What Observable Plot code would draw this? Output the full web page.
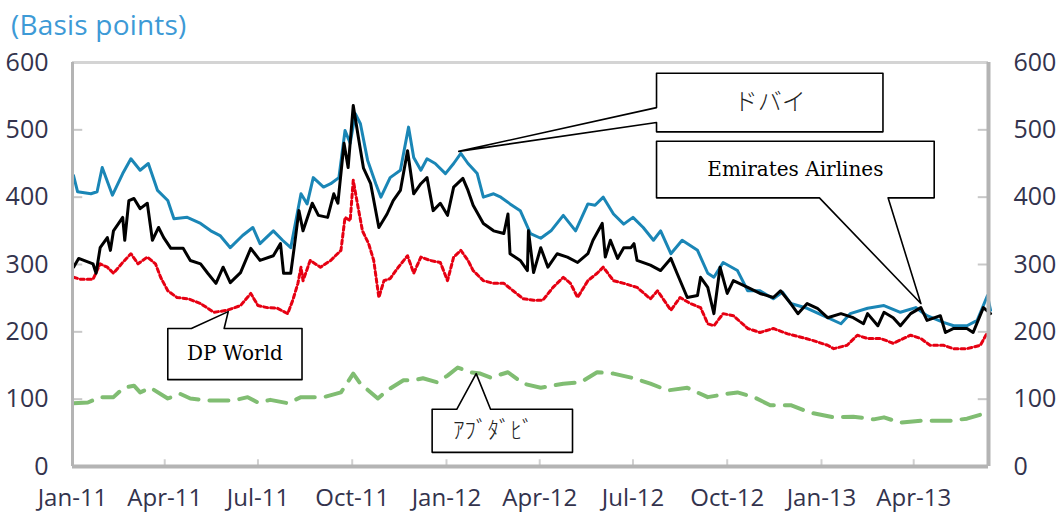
<!DOCTYPE html>
<html><head><meta charset="utf-8">
<script src="https://cdn.jsdelivr.net/npm/d3@7"></script>
<script src="https://cdn.jsdelivr.net/npm/@observablehq/plot@0.6"></script>
<style>
body{margin:0;background:#fff}
#chart{position:relative;width:1059px;height:513px;overflow:hidden}
#title{position:absolute;left:11px;top:5px;font-family:"Open Sans",sans-serif;font-size:28px;color:#3d9ad6;white-space:nowrap;letter-spacing:0.2px}
</style>
</head><body>
<div id="chart"><div id="title">(Basis points)</div></div>
<script>
// ---- data ----
const yTicks = [0, 100, 200, 300, 400, 500, 600];
const quarterTicks = ["2011-01-01","2011-04-01","2011-07-01","2011-10-01","2012-01-01","2012-04-01","2012-07-01","2012-10-01","2013-01-01","2013-04-01"];
const seriesNames = ["ドバイ", "Emirates Airlines", "DP World", "ｱﾌﾞﾀﾞﾋﾞ"];

const dubai = [
["2011-01-02",432],["2011-01-06",408],["2011-01-19",405],["2011-01-25",408],["2011-01-30",444],["2011-02-09",403],
["2011-02-19",435],["2011-02-27",457],["2011-03-08",440],["2011-03-16",450],["2011-03-25",410],["2011-04-04",395],
["2011-04-10",368],["2011-04-23",370],["2011-05-06",361],["2011-05-16",350],["2011-05-25",343],["2011-06-04",325],
["2011-06-16",343],["2011-06-26",355],["2011-07-03",331],["2011-07-16",350],["2011-07-25",336],["2011-08-02",325],
["2011-08-12",405],["2011-08-18",390],["2011-08-24",429],["2011-09-03",415],["2011-09-10",420],["2011-09-18",429],
["2011-09-24",499],["2011-09-29",480],["2011-10-04",524],["2011-10-09",509],["2011-10-16",455],["2011-10-24",420],
["2011-10-29",400],["2011-11-07",429],["2011-11-17",440],["2011-11-25",504],["2011-11-30",459],["2011-12-07",440],
["2011-12-13",457],["2011-12-21",450],["2011-12-31",435],["2012-01-08",450],["2012-01-15",465],["2012-01-22",450],
["2012-01-31",435],["2012-02-06",400],["2012-02-16",405],["2012-02-23",400],["2012-03-03",390],["2012-03-13",380],
["2012-03-23",346],["2012-04-02",339],["2012-04-12",350],["2012-04-24",373],["2012-05-06",350],["2012-05-18",390],
["2012-05-25",388],["2012-06-02",400],["2012-06-12",375],["2012-06-22",360],["2012-07-01",370],["2012-07-11",355],
["2012-07-21",336],["2012-07-28",350],["2012-08-07",316],["2012-08-18",336],["2012-09-02",321],["2012-09-12",287],
["2012-09-18",281],["2012-09-27",303],["2012-10-11",291],["2012-10-21",261],["2012-11-02",261],["2012-11-15",249],
["2012-11-24",259],["2012-12-02",242],["2012-12-18",235],["2013-01-07",221],["2013-01-20",212],["2013-01-29",227],
["2013-02-15",235],["2013-03-03",239],["2013-03-19",229],["2013-04-03",236],["2013-04-14",224],["2013-04-30",214],
["2013-05-10",209],["2013-05-23",209],["2013-06-02",217],["2013-06-12",254],["2013-06-15",232]
];
const emirates = [
["2011-01-02",296],["2011-01-07",309],["2011-01-21",301],["2011-01-24",287],["2011-01-28",325],["2011-02-04",340],
["2011-02-07",321],["2011-02-10",350],["2011-02-19",370],["2011-02-21",336],["2011-02-25",395],["2011-03-02",398],
["2011-03-08",383],["2011-03-15",391],["2011-03-20",336],["2011-03-26",355],["2011-03-31",340],["2011-04-07",324],
["2011-04-19",324],["2011-04-26",306],["2011-05-06",301],["2011-05-13",287],["2011-05-21",272],["2011-05-28",296],
["2011-06-04",273],["2011-06-14",288],["2011-06-24",324],["2011-07-03",306],["2011-07-16",313],["2011-07-23",331],
["2011-07-26",287],["2011-08-02",287],["2011-08-05",321],["2011-08-10",380],["2011-08-14",350],["2011-08-23",391],
["2011-08-29",373],["2011-09-07",370],["2011-09-13",405],["2011-09-17",391],["2011-09-23",480],["2011-09-27",444],
["2011-10-02",536],["2011-10-07",489],["2011-10-12",443],["2011-10-19",420],["2011-10-27",355],["2011-11-04",375],
["2011-11-10",395],["2011-11-17",410],["2011-11-24",469],["2011-11-30",405],["2011-12-07",420],["2011-12-13",429],
["2011-12-19",380],["2011-12-26",391],["2012-01-02",373],["2012-01-08",415],["2012-01-17",428],["2012-01-22",410],
["2012-01-27",388],["2012-02-06",361],["2012-02-16",350],["2012-02-26",346],["2012-03-01",375],["2012-03-03",316],
["2012-03-13",306],["2012-03-20",291],["2012-03-21",350],["2012-03-26",288],["2012-04-02",325],["2012-04-09",296],
["2012-04-18",316],["2012-04-28",311],["2012-05-08",303],["2012-05-18",316],["2012-05-23",336],["2012-06-01",361],
["2012-06-04",311],["2012-06-09",336],["2012-06-16",309],["2012-06-22",325],["2012-06-29",325],["2012-07-02",331],
["2012-07-05",306],["2012-07-18",299],["2012-07-28",291],["2012-08-07",309],["2012-08-13",287],["2012-08-23",251],
["2012-09-02",254],["2012-09-05",281],["2012-09-12",266],["2012-09-18",227],["2012-09-24",296],["2012-10-01",257],
["2012-10-07",276],["2012-10-21",266],["2012-11-02",257],["2012-11-15",251],["2012-11-22",261],["2012-12-02",242],
["2012-12-09",227],["2012-12-18",242],["2012-12-28",235],["2013-01-07",221],["2013-01-20",227],["2013-02-01",221],
["2013-02-11",212],["2013-02-15",227],["2013-02-25",209],["2013-03-03",229],["2013-03-12",221],["2013-03-19",209],
["2013-03-29",227],["2013-04-08",236],["2013-04-14",217],["2013-04-27",224],["2013-05-02",199],["2013-05-10",205],
["2013-05-23",205],["2013-05-29",199],["2013-06-08",236],["2013-06-15",227]
];
const dpWorld = [
["2011-01-02",281],["2011-01-09",278],["2011-01-21",278],["2011-01-28",301],["2011-02-04",296],["2011-02-10",287],
["2011-02-19",303],["2011-02-27",316],["2011-03-06",301],["2011-03-15",311],["2011-03-23",301],["2011-03-28",281],
["2011-04-04",261],["2011-04-13",251],["2011-04-24",249],["2011-05-06",242],["2011-05-19",229],["2011-06-01",232],
["2011-06-14",239],["2011-06-24",257],["2011-07-01",239],["2011-07-10",236],["2011-07-20",235],["2011-07-30",227],
["2011-08-04",247],["2011-08-09",272],["2011-08-12",296],["2011-08-14",276],["2011-08-21",306],["2011-08-31",296],
["2011-09-10",306],["2011-09-20",321],["2011-09-24",370],["2011-09-29",365],["2011-10-02",425],["2011-10-06",391],
["2011-10-11",350],["2011-10-17",331],["2011-10-22",306],["2011-10-27",251],["2011-11-01",276],["2011-11-07",279],
["2011-11-15",296],["2011-11-24",313],["2011-11-30",287],["2011-12-07",311],["2011-12-16",306],["2011-12-26",303],
["2012-01-02",276],["2012-01-08",311],["2012-01-15",321],["2012-01-22",306],["2012-01-27",291],["2012-02-06",276],
["2012-02-16",272],["2012-02-26",272],["2012-03-06",261],["2012-03-16",249],["2012-03-26",247],["2012-04-04",247],
["2012-04-14",266],["2012-04-24",281],["2012-05-01",272],["2012-05-08",251],["2012-05-18",276],["2012-05-27",287],
["2012-06-02",296],["2012-06-12",276],["2012-06-22",272],["2012-07-05",266],["2012-07-18",249],["2012-07-25",261],
["2012-08-07",232],["2012-08-16",251],["2012-08-26",242],["2012-09-05",236],["2012-09-12",212],["2012-09-18",209],
["2012-09-27",227],["2012-10-07",224],["2012-10-21",205],["2012-11-02",199],["2012-11-15",205],["2012-11-29",197],
["2012-12-12",192],["2012-12-24",187],["2013-01-07",180],["2013-01-13",175],["2013-01-26",180],["2013-02-05",195],
["2013-02-15",190],["2013-02-28",190],["2013-03-12",183],["2013-03-29",195],["2013-04-08",190],["2013-04-17",180],
["2013-04-30",180],["2013-05-10",175],["2013-05-23",175],["2013-06-05",180],["2013-06-12",199]
];
const abuDhabi = [
["2011-01-02",94],["2011-01-16",95],["2011-01-28",103],["2011-02-10",103],["2011-02-20",117],["2011-03-02",120],
["2011-03-08",110],["2011-03-18",117],["2011-04-04",101],["2011-04-16",108],["2011-04-26",101],["2011-05-13",98],
["2011-06-07",98],["2011-06-21",103],["2011-07-01",95],["2011-07-13",99],["2011-07-30",94],["2011-08-12",103],
["2011-09-03",103],["2011-09-20",110],["2011-10-02",138],["2011-10-09",123],["2011-10-26",101],["2011-11-04",113],
["2011-11-20",128],["2011-11-30",128],["2011-12-09",131],["2011-12-23",125],["2012-01-02",135],["2012-01-12",147],
["2012-01-24",140],["2012-02-03",138],["2012-02-13",132],["2012-03-01",140],["2012-03-16",123],["2012-04-02",117],
["2012-04-24",123],["2012-05-11",125],["2012-05-27",140],["2012-06-12",138],["2012-07-02",131],["2012-07-18",123],
["2012-08-04",113],["2012-08-23",117],["2012-09-12",103],["2012-10-01",108],["2012-10-11",110],["2012-10-27",103],
["2012-11-12",91],["2012-12-02",91],["2012-12-21",80],["2013-01-13",73],["2013-02-01",74],["2013-02-21",70],
["2013-03-03",73],["2013-03-19",65],["2013-04-08",68],["2013-05-07",68],["2013-05-23",71],["2013-06-12",80]
];

// ---- annotation layout (data coordinates) ----
const callouts = [
  {label: "ドバイ", jp: true, size: 24, dx: 0, x1: "2012-07-24", x2: "2013-03-02", top: 584, bottom: 497,
   side: "left", a: 533, b: 511, tipX: "2012-01-13", tipY: 468},
  {label: "Emirates Airlines", jp: false, size: 20, dx: 0, x1: "2012-07-24", x2: "2013-04-21", top: 483, bottom: 399,
   side: "bottom", a: "2012-12-30", b: "2013-03-07", tipX: "2013-04-08", tipY: 242},
  {label: "DP World", jp: false, size: 20, dx: 0, x1: "2011-04-04", x2: "2011-08-13", top: 205, bottom: 129,
   side: "top", a: "2011-04-27", b: "2011-05-29", tipX: "2011-06-02", tipY: 230},
  {label: "ｱﾌﾞﾀﾞﾋﾞ", jp: true, size: 23, dx: -9, x1: "2011-12-18", x2: "2012-05-03", top: 85, bottom: 21,
   side: "top", a: "2012-01-11", b: "2012-02-13", tipX: "2012-01-30", tipY: 138}
];

const parse = d3.utcParse("%Y-%m-%d");
const toRows = (arr, name) => arr.map(([d, v]) => ({date: parse(d), value: v, series: name}));
const dubaiRows = toRows(dubai, seriesNames[0]);
const emiratesRows = toRows(emirates, seriesNames[1]);
const dpRows = toRows(dpWorld, seriesNames[2]);
const adRows = toRows(abuDhabi, seriesNames[3]);

const xStart = parse("2011-01-01"), xEnd = parse("2013-06-13");
const qDates = quarterTicks.map(parse);

function outline(c) {
  const x1 = parse(c.x1), x2 = parse(c.x2), tx = parse(c.tipX);
  let p;
  if (c.side === "left") {
    p = [[x1, c.top], [x2, c.top], [x2, c.bottom], [x1, c.bottom], [x1, c.b], [tx, c.tipY], [x1, c.a]];
  } else if (c.side === "top") {
    p = [[x1, c.top], [parse(c.a), c.top], [tx, c.tipY], [parse(c.b), c.top], [x2, c.top], [x2, c.bottom], [x1, c.bottom]];
  } else {
    p = [[x1, c.top], [x2, c.top], [x2, c.bottom], [parse(c.b), c.bottom], [tx, c.tipY], [parse(c.a), c.bottom], [x1, c.bottom]];
  }
  return p.map(([x, y]) => ({x, y, id: c.label}));
}
const outlineRows = callouts.flatMap(outline);
const labelRows = callouts.map(c => ({
  x: new Date((parse(c.x1).getTime() + parse(c.x2).getTime()) / 2),
  y: (c.top + c.bottom) / 2, label: c.label, jp: c.jp, size: c.size, dx: c.dx
}));

const tickColor = "#33334d";
const axisFont = "Open Sans";

const jpMarks = labelRows.filter(d => d.jp).map(d =>
  Plot.text([d], {x: "x", y: "y", text: "label", fontSize: d.size, dx: d.dx,
    fontFamily: "Noto Sans CJK JP", fontWeight: 300, fill: "#222"}));
const enMarks = labelRows.filter(d => !d.jp).map(d =>
  Plot.text([d], {x: "x", y: "y", text: "label", fontSize: d.size, dx: d.dx,
    fontFamily: "DejaVu Serif", fill: "black"}));

const chart = Plot.plot({
  width: 1059, height: 513,
  marginLeft: 72, marginRight: 71, marginTop: 62, marginBottom: 47,
  style: {fontFamily: axisFont, background: "white"},
  x: {type: "utc", domain: [xStart, xEnd]},
  y: {domain: [0, 600]},
  marks: [
    // inner tick marks
    Plot.ruleY(yTicks.slice(1, -1), {x1: xStart, x2: d3.utcDay.offset(xStart, 10), stroke: "#c8c8c8", strokeWidth: 2}),
    Plot.ruleY(yTicks.slice(1, -1), {x1: d3.utcDay.offset(xEnd, -10), x2: xEnd, stroke: "#c8c8c8", strokeWidth: 2}),
    Plot.ruleX(qDates.slice(1), {y1: 0, y2: 10, stroke: "#d0d0d0", strokeWidth: 2}),
    // series
    Plot.line(adRows, {x: "date", y: "value", stroke: "#80bd72", strokeWidth: 4, strokeDasharray: "19,11"}),
    Plot.line(dpRows, {x: "date", y: "value", stroke: "#e60012", strokeWidth: 3, strokeDasharray: "4,3"}),
    Plot.line(dubaiRows, {x: "date", y: "value", stroke: "#1a86b6", strokeWidth: 3}),
    Plot.line(emiratesRows, {x: "date", y: "value", stroke: "#000000", strokeWidth: 3}),
    // frame
    Plot.ruleY([600], {stroke: "#d4d4d4", strokeWidth: 3}),
    Plot.ruleX([xStart], {stroke: "#b4b4b4", strokeWidth: 3}),
    Plot.ruleX([xEnd], {stroke: "#b4b4b4", strokeWidth: 4}),
    Plot.ruleY([0], {stroke: "#b4b4b4", strokeWidth: 4}),
    // axes
    Plot.axisY(yTicks, {anchor: "left", tickSize: 0, tickPadding: 24, fontSize: 25, color: tickColor, label: null}),
    Plot.axisY(yTicks, {anchor: "right", tickSize: 0, tickPadding: 25, fontSize: 25, color: tickColor, label: null}),
    Plot.axisX(qDates, {anchor: "bottom", tickSize: 0, tickPadding: 22, fontSize: 24, color: tickColor,
      tickFormat: d3.utcFormat("%b-%y"), label: null}),
    // callouts
    Plot.line(outlineRows, {x: "x", y: "y", z: "id", curve: "linear-closed", fill: "white", stroke: "black", strokeWidth: 1.6}),
    ...enMarks,
    ...jpMarks
  ]
});
document.getElementById("chart").prepend(chart);
</script>
</body></html>
